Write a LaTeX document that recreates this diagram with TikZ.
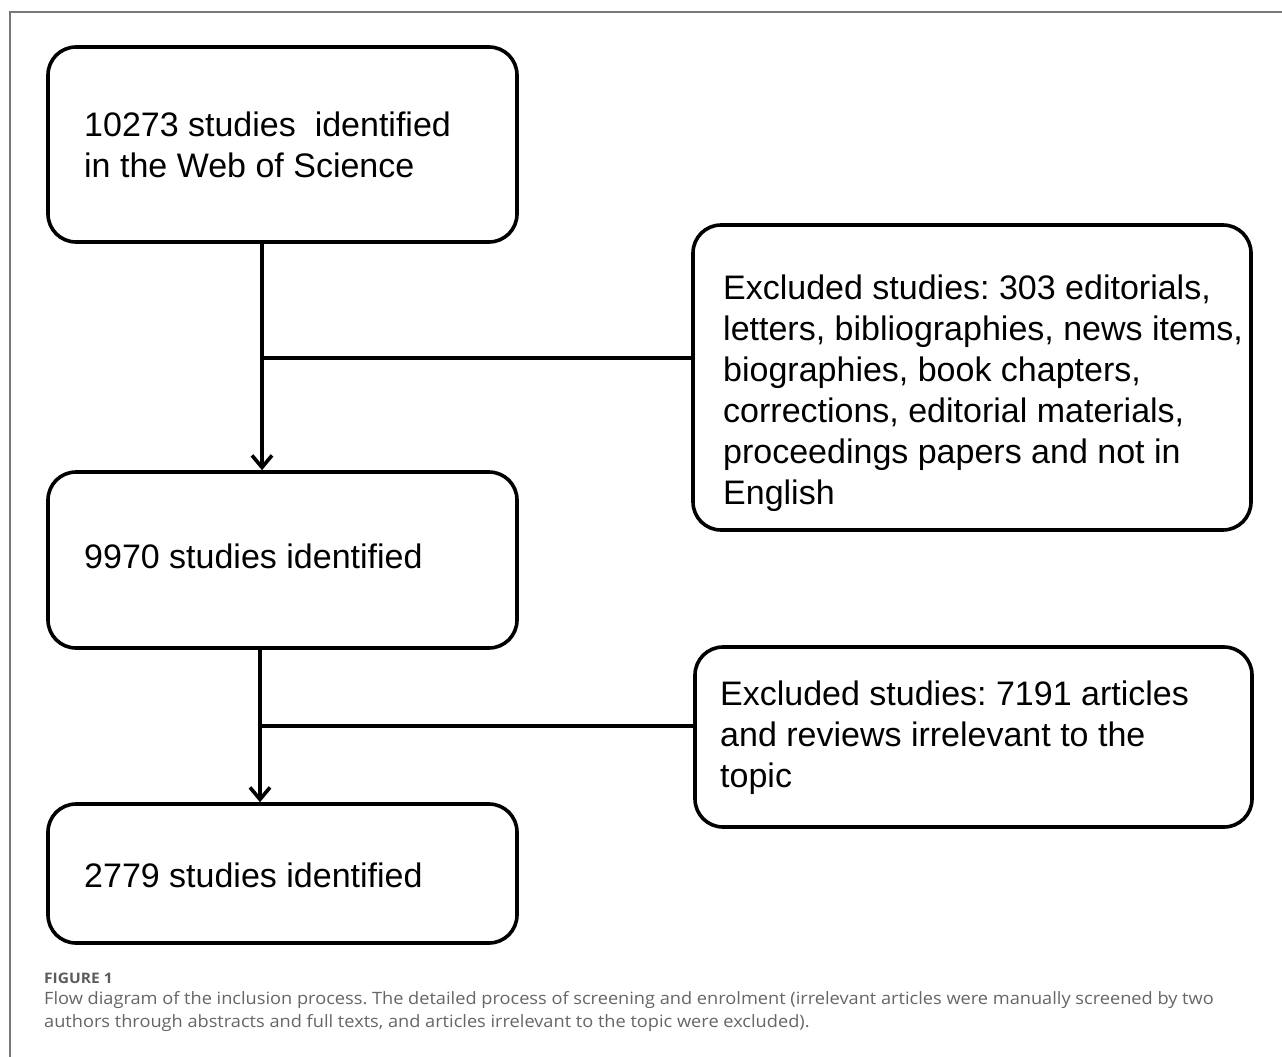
\documentclass[tikz,border=0pt]{standalone}
\usepackage{fontspec}
\setmainfont{Liberation Sans}
\newfontfamily\capfont[FakeStretch=1.07]{Open Sans}
\usetikzlibrary{arrows.meta}
\definecolor{capgray}{HTML}{666666}
\definecolor{framegray}{HTML}{777777}
\frenchspacing
\begin{document}
\begin{tikzpicture}[x=1pt,y=-1pt,
  box/.style={draw=black, line width=3.6pt, rounded corners=28pt, rectangle, inner sep=0pt},
  boxtext/.style={anchor=west, align=left, inner sep=0pt, font=\fontsize{34}{41}\selectfont},
  conn/.style={line width=3.6pt, black},
  arr/.style={conn, -{Straight Barb[length=12pt,width=20pt]}},
  captext/.style={anchor=west, inner sep=0pt, text=capgray, font=\capfont\fontsize{17}{23}\selectfont}
]
\useasboundingbox (0,0) rectangle (1282,1057);
\fill[white] (0,0) rectangle (1282,1057);
% frame
\draw[framegray, line width=1.6pt] (1282,12) -- (10,12) -- (10,1057);

% left boxes
\node[box, minimum width=469pt, minimum height=195pt] (b1) at (282.5,144.5) {};
\node[box, minimum width=469pt, minimum height=176pt] (b2) at (282.5,560) {};
\node[box, minimum width=469pt, minimum height=139pt] (b3) at (282.5,873.5) {};
% right boxes
\node[box, minimum width=558pt, minimum height=305pt] (r1) at (972,377.5) {};
\node[box, minimum width=557pt, minimum height=180pt] (r2) at (973.5,737) {};

% texts
\node[boxtext] (t1) at (84,145) {10273 studies\ \ identified\\in the Web of Science};
\node[boxtext] (t2) at (84,556) {9970 studies identified};
\node[boxtext] (t3) at (84,875) {2779 studies identified};
\node[boxtext] (tr1) at (723,393.5) {Excluded studies: 303 editorials,\\letters, bibliographies, news items,\\biographies, book chapters,\\corrections, editorial materials,\\proceedings papers and not in\\English};
\node[boxtext] (tr2) at (720,738) {Excluded studies: 7191 articles\\and reviews irrelevant to the\\topic};

% connectors
\coordinate (s1) at (262,0);
\coordinate (j1) at (262,358);
\coordinate (s2) at (260,0);
\coordinate (j2) at (260,726);
\draw[arr] (s1 |- b1.south) -- (s1 |- b2.north);
\draw[conn] (j1) -- (j1 -| r1.west);
\draw[arr] (s2 |- b2.south) -- (s2 |- b3.north);
\draw[conn] (j2) -- (j2 -| r2.west);

% caption
\node[captext, font=\capfont\bfseries\fontsize{14.5}{16}\selectfont, text=capgray!90!black] (fig) at (44,978) {FIGURE 1};
\node[captext] (c1) at (44,1000) {Flow diagram of the inclusion process. The detailed process of screening and enrolment (irrelevant articles were manually screened by two};
\node[captext] (c2) at (44,1023) {authors through abstracts and full texts, and articles irrelevant to the topic were excluded).};
\end{tikzpicture}
\end{document}
